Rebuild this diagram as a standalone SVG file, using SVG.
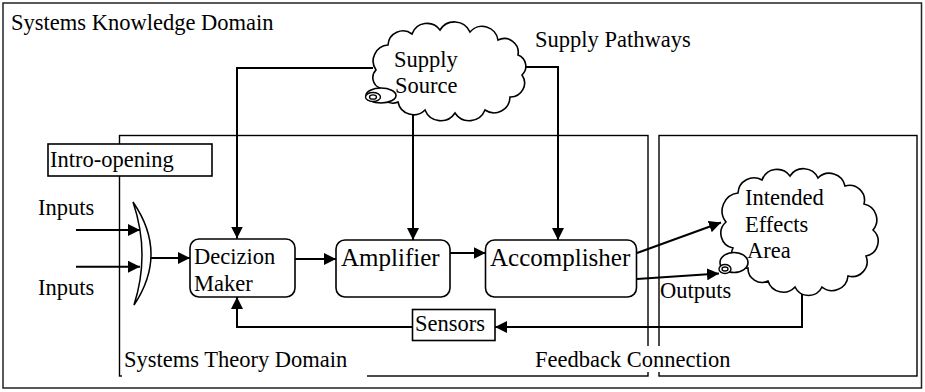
<svg xmlns="http://www.w3.org/2000/svg" width="925" height="392" viewBox="0 0 925 392" font-family="'Liberation Serif', 'Times New Roman', serif">
<style>
text{font-family:'Liberation Serif','Times New Roman',serif;font-size:22.5px;fill:#000}
.big{font-size:25px}
.frame{fill:none;stroke:#000;stroke-width:1.4}
.box{fill:#fff;stroke:#000;stroke-width:1.6}
.cloud{fill:#fff;stroke:#000;stroke-width:1.6}
.conn path{fill:none;stroke:#000;stroke-width:2;marker-end:url(#ah)}
.bg{fill:#fff}
</style>
<defs>
<marker id="ah" markerUnits="userSpaceOnUse" markerWidth="12" markerHeight="12" refX="12" refY="6" orient="auto">
<path d="M0,0 L12,6 L0,12 z" fill="#000"/>
</marker>
</defs>
<rect width="925" height="392" fill="#fff"/>
<g id="knowledge-domain">
<rect x="3" y="3" width="918.5" height="385" fill="none" stroke="#222" stroke-width="1.5"/>
<text x="11" y="30">Systems Knowledge Domain</text>
</g>
<g id="theory-domain">
<rect class="frame" x="119.5" y="135.5" width="528.5" height="240.5"/>
<rect class="bg" x="122" y="346" width="245" height="33"/>
<text x="124" y="367">Systems Theory Domain</text>
</g>
<g id="effects-domain">
<rect class="frame" x="659" y="135.5" width="258" height="240.5"/>
</g>
<g id="labels">
<rect class="bg" x="533" y="346" width="202" height="26"/>
<text x="535" y="367">Feedback Connection</text>
<rect class="bg" x="660" y="280" width="66" height="30"/>
<text x="660" y="298">Outputs</text>
<text x="535" y="47">Supply Pathways</text>
<text x="38" y="215">Inputs</text>
<text x="38" y="295">Inputs</text>
</g>
<g id="connectors" class="conn">
<path d="M373,68 H237 V238.5"/>
<path d="M413,110 V240"/>
<path d="M521,67 H558 V240"/>
<path d="M76,230 H140"/>
<path d="M76,266.7 H140"/>
<path d="M151,258 H190"/>
<path d="M295,259 H336"/>
<path d="M450,253 H485.5"/>
<path d="M637,253 L721,222.5"/>
<path d="M637,279 L719,273.5"/>
<path d="M802,285 V327 H495"/>
<path d="M412.5,327 H237 V297"/>
</g>
<g id="intro-opening">
<rect class="box" x="48" y="144" width="164" height="32"/>
<text x="50" y="167">Intro-opening</text>
</g>
<g id="gate">
<path d="M133,202 Q168.5,253.5 134,305 Q150.5,253.5 133,202 Z" fill="#fff" stroke="#000" stroke-width="1.5"/>
</g>
<g id="supply-source">
<path class="cloud" d="M376,70 A16,16 0 0 1 388,45 A15,15 0 0 1 412,34 A16,16 0 0 1 440,30 A17,17 0 0 1 470,32 A16,16 0 0 1 498,40 A14,14 0 0 1 518,55 A12,12 0 0 1 522,75 A14,14 0 0 1 510,97 A16,16 0 0 1 485,110 A17,17 0 0 1 455,113 A17,17 0 0 1 425,110 A16,16 0 0 1 398,102 A13,13 0 0 1 380,88 A11,11 0 0 1 376,70 Z"/>
<ellipse class="cloud" cx="381" cy="95.5" rx="15" ry="7.5"/>
<ellipse cx="373" cy="97" rx="7.5" ry="4.5" fill="#fff" stroke="#000" stroke-width="1.4"/>
<ellipse cx="373" cy="97" rx="3.5" ry="2.2" fill="none" stroke="#000" stroke-width="1.3"/>
<text x="394" y="67">Supply</text>
<text x="395" y="93">Source</text>
</g>
<g id="decizion-maker">
<rect class="box" x="190" y="239" width="105" height="58" rx="9"/>
<text x="194" y="264">Decizion</text>
<text x="194" y="291">Maker</text>
</g>
<g id="amplifier">
<rect class="box" x="336" y="240" width="114" height="57" rx="9"/>
<text class="big" x="341" y="266">Amplifier</text>
</g>
<g id="accomplisher">
<rect class="box" x="485.5" y="240" width="151" height="57" rx="9"/>
<text class="big" x="490" y="266">Accomplisher</text>
</g>
<g id="sensors">
<rect class="box" x="412.5" y="309.5" width="82.5" height="31"/>
<text x="415" y="331">Sensors</text>
</g>
<g id="intended-effects">
<path class="cloud" d="M726,222 A18,18 0 0 1 738,193 A16,16 0 0 1 762,180 A16,16 0 0 1 790,176 A16,16 0 0 1 818,178 A16,16 0 0 1 845,186 A15,15 0 0 1 864,204 A16,16 0 0 1 873,230 A15,15 0 0 1 866,256 A15,15 0 0 1 848,276 A16,16 0 0 1 822,287 A15,15 0 0 1 795,287 A16,16 0 0 1 768,281 A14,14 0 0 1 748,268 A14,14 0 0 1 733,248 A15,15 0 0 1 726,222 Z"/>
<ellipse class="cloud" cx="734" cy="262.5" rx="14" ry="10"/>
<ellipse cx="725" cy="269" rx="6" ry="4.5" fill="#fff" stroke="#000" stroke-width="1.4"/>
<ellipse cx="725" cy="269" rx="3" ry="2" fill="none" stroke="#000" stroke-width="1.3"/>
<text x="745" y="205">Intended</text>
<text x="745" y="231.5">Effects</text>
<text x="747" y="258">Area</text>
</g>
</svg>
